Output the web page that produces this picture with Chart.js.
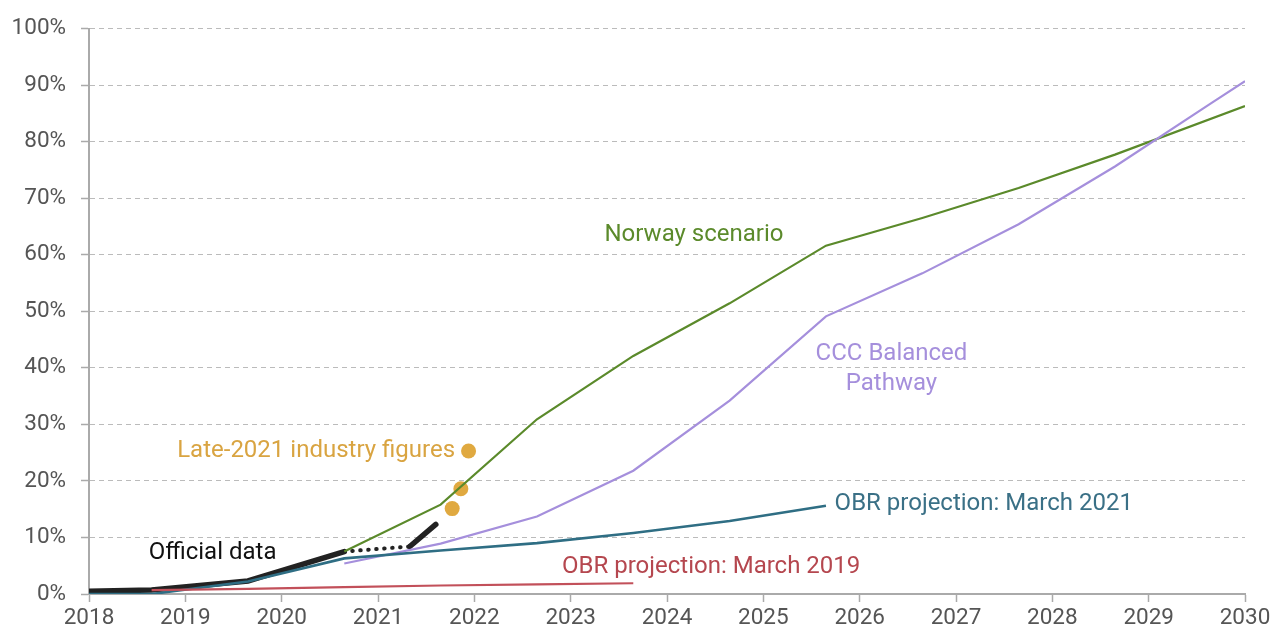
<!DOCTYPE html>
<html lang="en">
<head>
  <meta charset="UTF-8" />
  <title>Electric car share scenarios</title>
  <script src="https://cdn.jsdelivr.net/npm/chart.js"></script>
  <style>
    html, body { margin: 0; padding: 0; background: white; }
    #wrap { width: 1279px; height: 635px; }
  </style>
</head>
<body>
  <div id="wrap"><canvas id="chart"></canvas></div>

  <script>
    // years are decimal (mid-year points at .65)
    const officialYears = [2018, 2018.65, 2019.65, 2020.65];
    const officialShare = [0.5, 0.7, 2.3, 7.5];
    const gapYears = [2020.65, 2021.33];
    const gapShare = [7.5, 8.4];
    const recentYears = [2021.33, 2021.6];
    const recentShare = [8.4, 12.3];

    const norwayYears = [2020.65, 2021.65, 2022.65, 2023.65, 2024.65, 2025.65, 2026.65, 2027.65, 2028.65, 2030];
    const norwayShare = [7.5, 15.8, 30.9, 42.1, 51.4, 61.6, 66.5, 71.8, 77.7, 86.3];

    const cccYears = [2020.65, 2021.65, 2022.65, 2023.65, 2024.65, 2025.65, 2026.65, 2027.65, 2028.65, 2029.65, 2030];
    const cccShare = [5.4, 8.9, 13.7, 21.8, 34.2, 49.1, 56.7, 65.4, 75.6, 86.8, 90.7];

    const obr21Years = [2018, 2018.65, 2019.65, 2020.65, 2021.65, 2022.65, 2023.65, 2024.65, 2025.65];
    const obr21Share = [0, 0, 2.2, 6.3, 7.7, 9.0, 10.8, 12.9, 15.6];

    const obr19Years = [2018.65, 2019.65, 2020.65, 2021.65, 2022.65, 2023.65];
    const obr19Share = [0.7, 0.9, 1.2, 1.5, 1.7, 1.9];

    const industryYears = [2021.77, 2021.86, 2021.94];
    const industryShare = [15.1, 18.6, 25.3];

    const yTicks = [0, 10, 20, 30, 40, 50, 60, 70, 80, 90, 100];

    // text labels: [text, year, share, align, colour]
    const labels = [
      ["Norway scenario", 2024.28, 63.4, "center", "#5b8a2b"],
      ["CCC Balanced", 2026.33, 42.4, "center", "#a58fdc"],
      ["Pathway", 2026.33, 37.1, "center", "#a58fdc"],
      ["Late-2021 industry figures", 2021.80, 25.3, "right", "#d9a441"],
      ["OBR projection: March 2021", 2025.74, 16.0, "left", "#3a7086"],
      ["OBR projection: March 2019", 2022.91, 4.7, "left", "#b5474f"],
      ["Official data", 2018.62, 7.2, "left", "#111111"]
    ];

    const pts = (xs, ys) => xs.map((x, i) => ({ x: x, y: ys[i] }));

    const FONT = "Roboto, 'Noto Sans', sans-serif";

    const textLabels = {
      id: 'textLabels',
      afterDatasetsDraw(chart) {
        const ctx = chart.ctx;
        const xs = chart.scales.x, ys = chart.scales.y;
        ctx.save();
        ctx.font = "24px " + FONT;
        ctx.textBaseline = "middle";
        labels.forEach(l => {
          ctx.fillStyle = l[4];
          ctx.textAlign = l[3];
          ctx.fillText(l[0], xs.getPixelForValue(l[1]), ys.getPixelForValue(l[2]));
        });
        ctx.restore();
      }
    };

    const line = (data, color, width, extra) => Object.assign({
      data: data, borderColor: color, borderWidth: width,
      pointRadius: 0, fill: false, tension: 0
    }, extra || {});

    new Chart(document.getElementById('chart'), {
      type: 'line',
      data: {
        datasets: [
          line(pts(obr19Years, obr19Share), '#c2505a', 2.2),
          line(pts(obr21Years, obr21Share), '#2f6e84', 2.6),
          line(pts(cccYears, cccShare), '#a58fdc', 2.2),
          line(pts(norwayYears, norwayShare), '#5b8a2b', 2.2),
          line(pts(officialYears, officialShare), '#222222', 5.5, { borderCapStyle: 'round' }),
          line(pts(gapYears, gapShare), '#222222', 4, { borderDash: [0.5, 7.5], borderCapStyle: 'round' }),
          line(pts(recentYears, recentShare), '#222222', 5.5, { borderCapStyle: 'round' }),
          {
            type: 'scatter',
            data: pts(industryYears, industryShare),
            pointRadius: 7.5, pointBackgroundColor: '#e0a940', pointBorderWidth: 0,
            showLine: false
          }
        ]
      },
      options: {
        responsive: true,
        maintainAspectRatio: false,
        animation: false,
        layout: { padding: { top: 24, right: 34, left: 0, bottom: 0 } },
        plugins: { legend: { display: false }, tooltip: { enabled: false } },
        scales: {
          x: {
            type: 'linear', min: 2018, max: 2030,
            afterFit: s => { s.height = 41; },
            ticks: {
              stepSize: 1, padding: 3, color: '#555',
              font: { family: FONT, size: 22.5 },
              callback: v => String(v)
            },
            grid: { drawOnChartArea: false, drawTicks: true, tickLength: 8, tickColor: '#aaa', tickWidth: 1.5 },
            border: { color: '#aaa', width: 2 }
          },
          y: {
            min: 0, max: 100,
            afterFit: s => { s.width = 89; },
            afterBuildTicks: s => { s.ticks = yTicks.map(v => ({ value: v })); },
            ticks: {
              padding: 15, color: '#555',
              font: { family: FONT, size: 22.5 },
              callback: v => v + '%'
            },
            grid: { color: '#bbbbbb', lineWidth: 1, tickLength: 8, tickColor: '#aaa', tickWidth: 1.5 },
            border: { color: '#aaa', width: 2, dash: [5, 4] }
          }
        }
      },
      plugins: [textLabels]
    });
  </script>
</body>
</html>
